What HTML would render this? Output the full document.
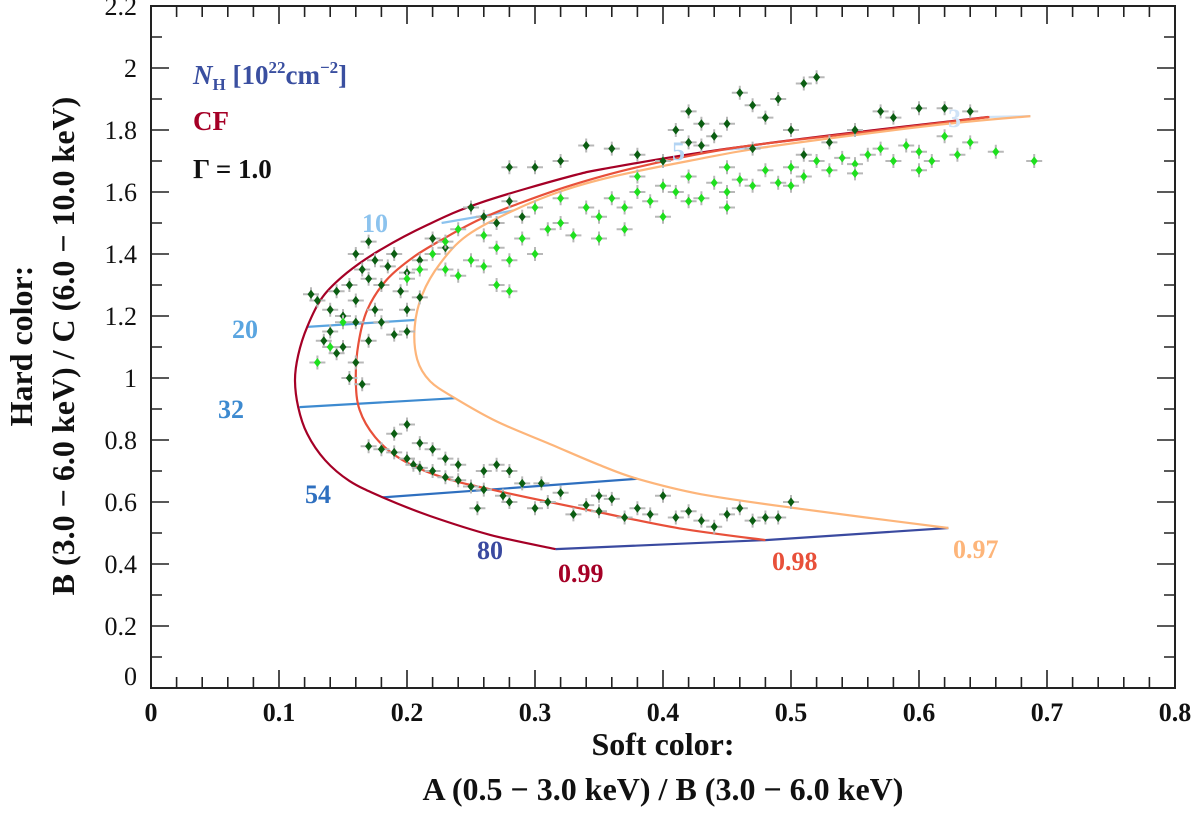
<!DOCTYPE html>
<html><head><meta charset="utf-8"><style>
html,body{margin:0;padding:0;background:#fff;}
svg{display:block;font-family:"Liberation Serif",serif;font-weight:bold;}
</style></head><body>
<svg id="chart" width="1200" height="814" viewBox="0 0 1200 814" xmlns="http://www.w3.org/2000/svg">
<g id="grid"></g>
<g id="pts"></g>
<g id="axes"></g>
<g>
<text x="193" y="84" font-size="27" fill="#3a4fa0"><tspan font-style="italic">N</tspan><tspan font-size="17" dy="6">H</tspan><tspan dy="-6"> [10</tspan><tspan font-size="17" dy="-11">22</tspan><tspan dy="11">cm</tspan><tspan font-size="17" dy="-11">−2</tspan><tspan dy="11">]</tspan></text>
<text x="193" y="130" font-size="27" fill="#a50026">CF</text>
<text x="193" y="178" font-size="27" fill="#111">Γ = 1.0</text>
</g>
<text x="663" y="755" font-size="32" text-anchor="middle" fill="#111">Soft color:</text>
<text x="663" y="800" font-size="32" text-anchor="middle" fill="#111">A (0.5 − 3.0 keV) / B (3.0 − 6.0 keV)</text>
<text transform="translate(32,346) rotate(-90)" font-size="32" text-anchor="middle" fill="#111">Hard color:</text>
<text transform="translate(74,346) rotate(-90)" font-size="32" text-anchor="middle" fill="#111">B (3.0 − 6.0 keV) / C (6.0 − 10.0 keV)</text>
</svg>
<script>
const xTicks=[0,0.1,0.2,0.3,0.4,0.5,0.6,0.7,0.8];
const xTickLabels=["0","0.1","0.2","0.3","0.4","0.5","0.6","0.7","0.8"];
const yTicks=[0,0.2,0.4,0.6,0.8,1.0,1.2,1.4,1.6,1.8,2.0,2.2];
const yTickLabels=["0","0.2","0.4","0.6","0.8","1","1.2","1.4","1.6","1.8","2","2.2"];
const cfNames=["0.99","0.98","0.97"];
const cf99=[[0.654,1.842],[0.533,1.784],[0.442,1.735],[0.361,1.680],[0.327,1.650],[0.257,1.565],[0.216,1.494],[0.179,1.413],[0.153,1.339],[0.134,1.261],[0.122,1.165],[0.115,1.074],[0.1125,0.994],[0.115,0.906],[0.122,0.820],[0.136,0.735],[0.155,0.668],[0.181,0.615],[0.218,0.555],[0.265,0.494],[0.316,0.448]];
const cf98=[[0.655,1.842],[0.559,1.794],[0.455,1.742],[0.380,1.680],[0.327,1.620],[0.283,1.556],[0.257,1.512],[0.231,1.455],[0.205,1.390],[0.184,1.316],[0.169,1.220],[0.162,1.110],[0.160,0.994],[0.163,0.897],[0.175,0.810],[0.195,0.739],[0.226,0.682],[0.266,0.640],[0.351,0.566],[0.413,0.515],[0.480,0.477]];
const cf97=[[0.687,1.845],[0.611,1.815],[0.481,1.745],[0.420,1.700],[0.361,1.650],[0.322,1.605],[0.283,1.540],[0.247,1.460],[0.226,1.370],[0.212,1.270],[0.206,1.165],[0.208,1.060],[0.218,0.990],[0.2375,0.935],[0.27,0.86],[0.31,0.79],[0.35,0.72],[0.38,0.675],[0.43,0.625],[0.507,0.578],[0.623,0.516]];
const nhNames=["3","5","10","20","32","54","80"];
const nh3=[[0.654,1.842],[0.687,1.845]];
const nh5=[[0.441,1.735],[0.482,1.745]];
const nh10=[[0.227,1.500],[0.283,1.540]];
const nh20=[[0.122,1.165],[0.206,1.187]];
const nh32=[[0.116,0.906],[0.2375,0.935]];
const nh54=[[0.181,0.615],[0.380,0.675]];
const nh80=[[0.316,0.448],[0.480,0.477],[0.623,0.516]];
const darkPts=[[0.17,0.78],[0.18,0.77],[0.19,0.76],[0.2,0.74],[0.205,0.72],[0.21,0.71],[0.22,0.70],[0.23,0.68],[0.24,0.67],[0.25,0.65],[0.26,0.64],[0.275,0.62],[0.28,0.60],[0.29,0.66],[0.30,0.58],[0.31,0.60],[0.32,0.63],[0.33,0.56],[0.34,0.59],[0.35,0.57],[0.36,0.61],[0.37,0.55],[0.38,0.58],[0.39,0.56],[0.40,0.62],[0.41,0.55],[0.42,0.57],[0.43,0.54],[0.45,0.56],[0.46,0.58],[0.47,0.54],[0.48,0.55],[0.49,0.55],[0.50,0.60],[0.44,0.52],[0.27,0.72],[0.28,0.70],[0.23,0.74],[0.26,0.70],[0.255,0.58],[0.305,0.66],[0.35,0.62],[0.19,0.82],[0.2,0.85],[0.21,0.79],[0.22,0.77],[0.24,0.72],
[0.125,1.27],[0.13,1.25],[0.14,1.22],[0.145,1.28],[0.15,1.20],[0.155,1.30],[0.16,1.25],[0.165,1.35],[0.17,1.32],[0.175,1.38],[0.18,1.30],[0.185,1.36],[0.19,1.40],[0.195,1.28],[0.2,1.34],[0.21,1.38],[0.22,1.45],[0.23,1.42],[0.14,1.15],[0.15,1.10],[0.16,1.05],[0.17,1.12],[0.18,1.18],[0.19,1.14],[0.2,1.22],[0.135,1.12],[0.145,1.08],[0.16,1.40],[0.17,1.44],[0.25,1.55],[0.26,1.52],[0.27,1.50],[0.28,1.57],[0.29,1.52],[0.3,1.68],[0.32,1.70],[0.28,1.68],[0.16,1.18],[0.175,1.22],[0.2,1.15],[0.21,1.26],[0.165,0.98],[0.155,1.00],
[0.41,1.80],[0.42,1.76],[0.43,1.75],[0.44,1.78],[0.42,1.86],[0.43,1.82],[0.45,1.82],[0.47,1.88],[0.48,1.84],[0.46,1.92],[0.49,1.90],[0.51,1.95],[0.52,1.97],[0.5,1.80],[0.55,1.80],[0.57,1.86],[0.58,1.84],[0.6,1.87],[0.62,1.87],[0.64,1.86],[0.38,1.72],[0.36,1.74],[0.34,1.75],[0.4,1.70],[0.53,1.76],[0.47,1.74],[0.51,1.72]];
const brightPts=[[0.22,1.40],[0.23,1.35],[0.24,1.33],[0.25,1.38],[0.26,1.36],[0.27,1.42],[0.28,1.38],[0.29,1.45],[0.3,1.40],[0.31,1.48],[0.32,1.50],[0.33,1.46],[0.34,1.55],[0.35,1.52],[0.36,1.58],[0.37,1.55],[0.38,1.60],[0.39,1.57],[0.40,1.62],[0.41,1.60],[0.42,1.65],[0.43,1.58],[0.44,1.63],[0.45,1.60],[0.46,1.64],[0.47,1.62],[0.48,1.67],[0.49,1.63],[0.50,1.68],[0.51,1.65],[0.52,1.70],[0.53,1.67],[0.54,1.71],[0.55,1.69],[0.56,1.72],[0.57,1.74],[0.58,1.70],[0.6,1.73],[0.62,1.78],[0.64,1.76],[0.66,1.73],[0.69,1.70],[0.61,1.70],[0.59,1.75],[0.35,1.45],[0.27,1.30],[0.28,1.28],[0.2,1.32],[0.21,1.35],[0.24,1.48],[0.26,1.46],[0.3,1.55],[0.32,1.58],[0.37,1.48],[0.40,1.52],[0.45,1.55],[0.50,1.62],[0.55,1.66],[0.14,1.10],[0.13,1.05],[0.15,1.18],[0.23,1.44],[0.45,1.68],[0.42,1.57],[0.38,1.65],[0.6,1.67],[0.63,1.72]];

const X0=151,X1=1175,Y0=688,Y1=6;
const sx=v=>X0+(v-0)/(0.8)*(X1-X0);
const sy=v=>Y0-(v-0)/(2.2)*(Y0-Y1);
const NS="http://www.w3.org/2000/svg";
function mk(tag,parent){const e=document.createElementNS(NS,tag);parent.appendChild(e);return e;}
const grid=document.getElementById('grid'),pts=document.getElementById('pts'),axes=document.getElementById('axes');
function smoothPath(arr){
  const p=arr.map(d=>[sx(d[0]),sy(d[1])]);
  if(p.length<3) return 'M'+p.map(q=>q[0].toFixed(1)+' '+q[1].toFixed(1)).join('L');
  let s=`M${p[0][0].toFixed(1)} ${p[0][1].toFixed(1)}`;
  for(let i=0;i<p.length-1;i++){
    const a=p[Math.max(0,i-1)],b=p[i],c=p[i+1],e=p[Math.min(p.length-1,i+2)];
    const c1=[b[0]+(c[0]-a[0])/6,b[1]+(c[1]-a[1])/6],c2=[c[0]-(e[0]-b[0])/6,c[1]-(e[1]-b[1])/6];
    s+=`C${c1[0].toFixed(1)} ${c1[1].toFixed(1)} ${c2[0].toFixed(1)} ${c2[1].toFixed(1)} ${c[0].toFixed(1)} ${c[1].toFixed(1)}`;
  }
  return s;
}
function line(arr,color,w,name,smooth){
  const p=mk('path',grid);
  
  
  p.setAttribute('d',smooth?smoothPath(arr):'M'+arr.map(d=>sx(d[0]).toFixed(1)+' '+sy(d[1]).toFixed(1)).join('L'));
  p.setAttribute('fill','none');p.setAttribute('stroke',color);p.setAttribute('stroke-width',w);
}
const nhArr=[nh3,nh5,nh10,nh20,nh32,nh54,nh80];
const nhCol=["#cfe3f7","#b3d4f3","#8cc3ee","#5aa5e0","#3d8ad0","#2e6fbf","#3a4aa0"];
nhArr.forEach((a,i)=>line(a,nhCol[i],2.2,'nh-line-'+nhNames[i],false));
const cfArr=[cf99,cf98,cf97],cfCol=["#a50026","#e8503a","#fdb57a"];
cfArr.forEach((a,i)=>line(a,cfCol[i],2.2,'cf-curve-'+cfNames[i],true));
const nhLab=[[948,127],[672,160],[362,232],[232,338],[218,418],[305,503],[477,559]];
nhLab.forEach((p,i)=>{const t=mk('text',grid);


t.setAttribute('x',p[0]);t.setAttribute('y',p[1]);t.setAttribute('font-size','26');t.setAttribute('fill',nhCol[i]);t.textContent=nhNames[i];});
const cfLab=[[558,582],[772,570],[953,558]];
cfLab.forEach((p,i)=>{const t=mk('text',grid);


t.setAttribute('x',p[0]);t.setAttribute('y',p[1]);t.setAttribute('font-size','26');t.setAttribute('fill',cfCol[i]);t.textContent=cfNames[i];});
function drawPts(arr,color,name){arr.forEach(d=>{
  const g=mk('g',pts);
  
  
  const x=sx(d[0]),y=sy(d[1]);
  const e=mk('path',g);e.setAttribute('d',`M${x-8} ${y}H${x+8}M${x} ${y-7}V${y+7}`);e.setAttribute('stroke','#b8b8b8');e.setAttribute('stroke-width','2');
  const m=mk('path',g);m.setAttribute('d',`M${x} ${y-4.5}L${x+3.5} ${y}L${x} ${y+4.5}L${x-3.5} ${y}Z`);m.setAttribute('fill',color);
});}
drawPts(darkPts,'#0b5e12','data-point-dark');
drawPts(brightPts,'#1ee01e','data-point-bright');
const fr=mk('rect',axes);


fr.setAttribute('x',X0);fr.setAttribute('y',Y1);fr.setAttribute('width',X1-X0);fr.setAttribute('height',Y0-Y1);fr.setAttribute('fill','none');fr.setAttribute('stroke','#222');fr.setAttribute('stroke-width','2');
let d='';
for(let i=0;i<=40;i++){const v=i*0.02,x=sx(v),L=(i%5===0)?18:11;d+=`M${x} ${Y0}V${Y0-L}M${x} ${Y1}V${Y1+L}`;}
for(let i=0;i<=22;i++){const v=i*0.1,y=sy(v),L=(i%2===0)?18:11;d+=`M${X0} ${y}H${X0+L}M${X1} ${y}H${X1-L}`;}
const tk=mk('path',axes);


tk.setAttribute('d',d);tk.setAttribute('stroke','#222');tk.setAttribute('stroke-width','1.6');
xTicks.forEach((v,i)=>{const t=mk('text',axes);


t.setAttribute('x',sx(v));t.setAttribute('y',721);t.setAttribute('font-size','26');t.setAttribute('text-anchor','middle');t.setAttribute('fill','#111');t.textContent=xTickLabels[i];});
yTicks.forEach((v,i)=>{const t=mk('text',axes);


t.setAttribute('x',137);t.setAttribute('y',Math.min(sy(v)+9,685));t.setAttribute('font-size','26');t.setAttribute('text-anchor','end');t.setAttribute('font-weight','normal');t.setAttribute('fill','#111');t.textContent=yTickLabels[i];});
</script>
</body></html>
